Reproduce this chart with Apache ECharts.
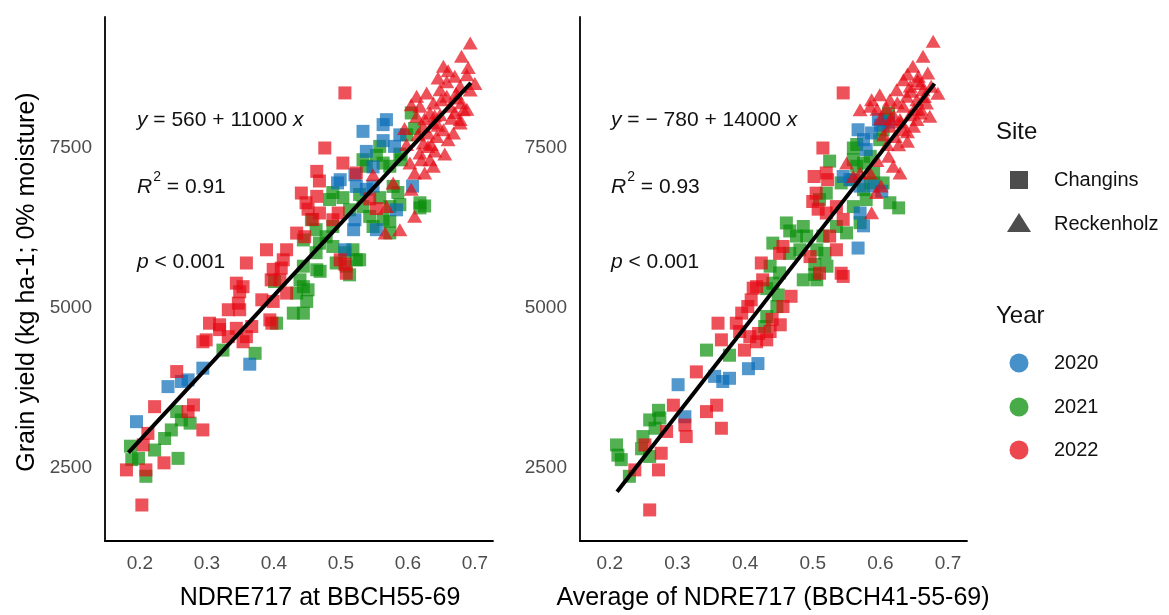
<!DOCTYPE html>
<html><head><meta charset="utf-8">
<script src="https://cdn.jsdelivr.net/npm/echarts@6/dist/echarts.min.js"></script>
<style>html,body{margin:0;padding:0;background:#fff}#c{width:1169px;height:615px}</style>
</head><body><div id="c"></div>
<script>
// ---------- DATA ----------
const xTicks = [0.2, 0.3, 0.4, 0.5, 0.6, 0.7];
const yTicks = [2500, 5000, 7500];
const siteNames = ['Changins', 'Reckenholz'];
const yearNames = ['2020', '2021', '2022'];
const xTitleLeft = 'NDRE717 at BBCH55-69';
const xTitleRight = 'Average of NDRE717 (BBCH41-55-69)';
const yTitle = 'Grain yield (kg ha-1; 0% moisture)';
const eqLeft = ['560', '11000', '0.91'];
const eqRight = ['\u2212780', '14000', '0.93'];

// Left panel: NDRE717 at BBCH55-69
const leftCh2020 = [[0.195,3223],[0.242,3770],[0.272,3875],[0.262,3850],[0.294,4058],[0.364,4120],
 [0.533,7755],[0.568,7937],[0.563,7860],[0.538,7442],[0.563,7610],[0.580,7520],
 [0.499,7000],[0.495,6950],[0.521,7078],[0.523,6895],[0.538,6850],[0.548,6900],
 [0.521,6375],[0.519,6220],[0.553,6220],[0.506,5906],[0.583,6530],[0.607,6900],[0.548,7200],[0.588,7700]];
const leftCh2021 = [[0.605,8042],[0.610,7800],[0.598,7700],[0.558,7520],[0.553,7380],[0.533,7312],[0.538,7210],[0.563,7260],[0.573,7210],[0.590,7310],[0.588,7400],
 [0.488,6800],[0.503,6720],[0.483,6690],[0.528,6770],[0.558,6720],[0.578,6895],[0.585,6800],[0.618,6640],[0.625,6590],[0.618,6560],[0.573,6580],[0.588,6610],
 [0.543,6427],[0.563,6380],[0.573,6350],[0.548,6270],[0.573,6170],[0.456,6375],[0.463,6220],[0.488,6270],[0.513,6530],[0.533,6580],
 [0.444,6060],[0.468,6010],[0.478,6110],[0.488,5958],[0.506,5860],[0.518,5906],[0.523,5750],[0.508,5650],[0.464,5594],[0.444,5650],[0.439,5437],[0.493,5700],[0.463,5860],[0.528,5750],
 [0.451,5281],[0.449,5100],[0.434,5230],[0.429,4917],[0.444,4917],[0.404,4760],[0.469,5570],[0.513,5515],[0.401,5410],[0.444,5330],[0.324,4340],[0.372,4290],
 [0.255,3380],[0.275,3200],[0.247,3094],[0.237,2960],[0.222,2780],[0.186,2840],[0.188,2630],[0.198,2650],[0.209,2370],[0.257,2650],[0.262,3250]];
const leftCh2022 = [[0.506,8355],[0.476,7495],[0.503,7260],[0.464,7130],[0.468,6980],[0.523,7105],[0.441,6792],[0.448,6640],[0.464,6740],[0.451,6540],[0.468,6480],[0.458,6380],[0.496,6480],
 [0.434,6167],[0.446,6110],[0.488,6375],[0.499,5750],[0.506,5680],[0.389,5906],[0.419,5906],[0.414,5750],[0.359,5700],[0.399,5600],[0.411,5620],[0.543,6700],[0.553,6550],
 [0.409,5437],[0.344,5385],[0.354,5330],[0.396,5437],[0.349,5250],[0.347,5073],[0.332,4970],[0.349,4970],[0.382,5125],[0.399,5100],[0.394,4812],[0.304,4760],
 [0.319,4735],[0.319,4660],[0.344,4680],[0.367,4708],[0.294,4470],[0.299,4500],[0.332,4550],[0.354,4470],[0.359,4550],[0.255,4005],[0.222,3457],[0.280,3484],
 [0.272,3380],[0.294,3094],[0.212,3040],[0.205,2860],[0.180,2470],[0.209,2470],[0.203,1922],[0.419,5230],[0.397,4760],[0.508,5540],[0.236,2580]];
const leftRe2022 = [[0.693,9135],[0.680,8927],[0.653,8770],[0.670,8614],[0.688,8640],[0.645,8589],[0.658,8530],[0.678,8458],[0.693,8400],[0.648,8406],[0.628,8355],
 [0.613,8302],[0.658,8302],[0.673,8275],[0.638,8198],[0.618,8146],[0.605,8172],[0.663,8146],[0.683,8094],[0.633,8042],[0.648,8015],[0.613,7990],[0.665,7960],
 [0.638,7885],[0.623,7832],[0.678,7885],[0.653,7780],[0.668,7730],[0.643,7675],[0.630,7730],[0.660,7625],[0.623,7573],[0.630,7520],[0.618,7417],[0.633,7312],
 [0.638,7210],[0.625,7105],[0.620,7312],[0.678,7940],[0.688,8100],[0.603,7260],[0.610,7105],[0.548,7078],[0.566,6170],[0.588,6220],[0.605,6850],[0.610,6430],
 [0.578,6950],[0.568,6580],[0.598,7550],[0.640,7450],[0.655,7400],[0.595,7800],[0.700,8500],[0.690,8750],
 [0.650,8250],[0.672,8350],[0.640,8000],[0.625,7950],[0.660,8700],[0.680,8200],[0.615,7700],[0.645,7850],[0.635,7550],[0.670,8050]];
const leftFit = [[0.183,2740],[0.694,8510]];

// Right panel: Average of NDRE717
const rightCh2020 = [[0.597,7940],[0.567,7780],[0.587,7730],[0.575,7625],[0.579,7470],[0.545,7050],[0.570,6900],[0.590,6900],[0.602,6820],[0.570,6480],[0.575,6280],
 [0.567,5933],[0.405,4050],[0.419,4130],[0.355,3930],[0.367,3850],[0.377,3900],[0.301,3800],[0.311,3300],[0.555,7000],[0.600,7850],[0.612,7900]];
const rightCh2021 = [[0.612,8042],[0.607,7940],[0.604,7780],[0.599,7625],[0.560,7495],[0.525,7290],[0.560,7312],[0.565,7210],[0.575,7260],[0.585,7365],[0.542,6950],
 [0.560,7000],[0.575,6845],[0.585,6950],[0.604,6950],[0.614,6640],[0.627,6560],[0.579,6690],[0.520,6790],[0.510,6690],[0.560,6580],[0.570,6330],[0.535,6270],
 [0.515,6120],[0.550,6170],[0.506,5906],[0.518,5850],[0.503,5680],[0.521,5650],[0.461,6325],[0.466,6200],[0.486,6270],[0.476,6120],[0.491,6120],[0.441,6010],
 [0.466,5850],[0.481,5906],[0.437,5650],[0.451,5545],[0.441,5385],[0.486,5437],[0.432,5300],[0.432,4865],[0.429,4708],[0.447,5020],[0.449,5200],[0.503,5520],
 [0.506,5437],[0.343,4340],[0.377,4260],[0.272,3400],[0.259,3250],[0.274,3280],[0.267,3120],[0.249,2990],[0.247,2800],[0.210,2860],[0.212,2700],[0.217,2630],
 [0.259,2680],[0.229,2370],[0.565,7550],[0.590,7100]];
const rightCh2022 = [[0.545,8355],[0.515,7495],[0.502,7050],[0.520,7105],[0.505,6790],[0.500,6660],[0.522,7000],[0.535,6580],[0.520,6480],[0.508,6540],[0.545,6380],
 [0.525,6120],[0.535,5906],[0.496,5800],[0.542,5540],[0.510,5540],[0.456,5958],[0.451,5850],[0.424,5700],[0.417,5330],[0.426,5437],[0.412,5307],[0.409,5125],
 [0.404,5020],[0.395,4917],[0.456,5020],[0.468,5180],[0.545,5490],[0.452,4735],[0.437,4630],[0.432,4500],[0.387,4760],[0.392,4630],[0.407,4550],[0.417,4470],
 [0.360,4760],[0.365,4500],[0.399,4340],[0.328,4000],[0.294,3480],[0.343,3380],[0.358,3480],[0.365,3120],[0.311,3170],[0.313,2990],[0.284,3070],[0.252,2860],
 [0.276,2730],[0.237,2470],[0.272,2470],[0.259,1845],[0.420,4600],[0.440,4820]];
const rightRe2022 = [[0.678,9160],[0.663,8927],[0.648,8770],[0.634,8562],[0.656,8614],[0.670,8667],[0.644,8458],[0.624,8406],[0.663,8406],[0.675,8458],[0.639,8302],
 [0.654,8250],[0.614,8250],[0.599,8328],[0.587,8250],[0.585,8146],[0.609,8120],[0.634,8146],[0.668,8198],[0.659,8042],[0.644,8015],[0.629,7940],[0.634,7780],
 [0.614,7833],[0.622,7675],[0.649,7833],[0.654,7940],[0.673,7990],[0.627,7545],[0.612,7365],[0.619,7210],[0.629,7105],[0.585,7105],[0.550,7260],[0.570,7105],
 [0.587,6484],[0.594,6800],[0.601,6900],[0.560,7050],[0.570,8094],[0.640,8650],[0.660,8500],[0.620,8000],[0.600,7950],[0.650,8100],[0.610,7550],[0.595,7300],
 [0.685,8350],[0.640,7600],
 [0.625,8200],[0.645,8380],[0.665,8300],[0.630,7900],[0.655,8550],[0.615,7950],[0.640,7750],[0.605,7700],[0.660,8100],[0.595,8100]];
const rightFit = [[0.2108,2130],[0.680,8500]];

// ---------- STYLE ----------
const FONT = '"Liberation Sans", Arial, sans-serif';
const C_BLUE = '#0A6CB8', C_GREEN = '#0A8F0A', C_RED = '#E50914';
const OP = 0.7;
const SQ = 13, TRI = [15, 13];

function xAxis(idx, min, max) {
  return {
    type: 'value', gridIndex: idx, min: min, max: max,
    axisLine: { show: true, onZero: false, lineStyle: { color: '#000', width: 1.8 } },
    axisTick: { show: false },
    splitLine: { show: false },
    axisLabel: { customValues: xTicks, color: '#4d4d4d', fontSize: 19, fontFamily: FONT, margin: 13,
      formatter: v => Number(v).toFixed(1) }
  };
}
function yAxis(idx) {
  return {
    type: 'value', gridIndex: idx, min: 1360, max: 9540,
    axisLine: { show: true, onZero: false, lineStyle: { color: '#000', width: 1.8 } },
    axisTick: { show: false },
    splitLine: { show: false },
    axisLabel: { customValues: yTicks, color: '#4d4d4d', fontSize: 19, fontFamily: FONT, margin: 13,
      formatter: v => String(Math.round(Number(v))) }
  };
}
function sc(idx, data, color, tri) {
  return {
    type: 'scatter', xAxisIndex: idx, yAxisIndex: idx, data: data,
    symbol: tri ? 'triangle' : 'rect', symbolSize: tri ? TRI : SQ,
    itemStyle: { color: color, opacity: OP }, silent: true, z: 2,
    emphasis: { disabled: true }
  };
}
function fit(idx, data) {
  return {
    type: 'line', xAxisIndex: idx, yAxisIndex: idx, data: data, symbol: 'none', z: 5,
    lineStyle: { color: '#000', width: 4, cap: 'butt' }, silent: true, animation: false
  };
}
const richBase = {
  n: { fontSize: 21, fontFamily: FONT, fill: '#111', lineHeight: 28, verticalAlign: 'bottom' },
  i: { fontSize: 21, fontFamily: FONT, fontStyle: 'italic', fill: '#111', lineHeight: 28, verticalAlign: 'bottom' },
  s: { fontSize: 14, fontFamily: FONT, fill: '#111', lineHeight: 28, verticalAlign: 'top', padding: [0, 0, 0, 1] }
};
function annot(x, eq) {
  const sign = eq[0].startsWith('\u2212') ? '{n| = \u2212 ' + eq[0].slice(1) + ' + ' + eq[1] + ' }' : '{n| = ' + eq[0] + ' + ' + eq[1] + ' }';
  return [
    { type: 'text', x: x, y: 117, style: { text: '{i|y}' + sign + '{i|x}', rich: richBase, verticalAlign: 'middle' } },
    { type: 'text', x: x, y: 184, style: { text: '{i|R}{s|2}{n| = ' + eq[2] + '}', rich: richBase, verticalAlign: 'middle' } },
    { type: 'text', x: x, y: 259, style: { text: '{i|p}{n| < 0.001}', rich: richBase, verticalAlign: 'middle' } }
  ];
}
const legendFill = '#4d4d4d';
const lt = (x, y, t, fs) => ({ type: 'text', x: x, y: y, style: { text: t, fontSize: fs, fontFamily: FONT, fill: '#111', verticalAlign: 'middle' } });

const graphics = [].concat(
  annot(137, eqLeft), annot(611, eqRight),
  [
    { type: 'text', x: 320, y: 598, style: { text: xTitleLeft, fontSize: 25, fontFamily: FONT, fill: '#000', align: 'center', verticalAlign: 'middle' } },
    { type: 'text', x: 773, y: 598, style: { text: xTitleRight, fontSize: 25, fontFamily: FONT, fill: '#000', align: 'center', verticalAlign: 'middle' } },
    { type: 'text', x: 27, y: 282, rotation: Math.PI / 2, style: { text: yTitle, fontSize: 25, fontFamily: FONT, fill: '#000', align: 'center', verticalAlign: 'middle' } },
    lt(996, 132, 'Site', 24),
    { type: 'rect', shape: { x: 1010, y: 171, width: 18, height: 18 }, style: { fill: legendFill } },
    lt(1054, 180, siteNames[0], 20),
    { type: 'polygon', shape: { points: [[1007, 232], [1019, 213], [1031, 232]] }, style: { fill: legendFill } },
    lt(1054, 224, siteNames[1], 20),
    lt(996, 316, 'Year', 24),
    { type: 'circle', shape: { cx: 1019, cy: 363, r: 9.5 }, style: { fill: C_BLUE, opacity: 0.75 } },
    lt(1054, 363, yearNames[0], 20),
    { type: 'circle', shape: { cx: 1019, cy: 407, r: 9.5 }, style: { fill: C_GREEN, opacity: 0.75 } },
    lt(1054, 407, yearNames[1], 20),
    { type: 'circle', shape: { cx: 1019, cy: 450, r: 9.5 }, style: { fill: C_RED, opacity: 0.75 } },
    lt(1054, 450, yearNames[2], 20)
  ]
);

const chart = echarts.init(document.getElementById('c'), null, { renderer: 'canvas' });
chart.setOption({
  animation: false,
  backgroundColor: '#fff',
  grid: [
    { left: 105, top: 17, width: 388, height: 524 },
    { left: 580, top: 17, width: 387, height: 524 }
  ],
  xAxis: [xAxis(0, 0.148, 0.727), xAxis(1, 0.156, 0.728)],
  yAxis: [yAxis(0), yAxis(1)],
  series: [
    sc(0, leftCh2021, C_GREEN, false), sc(0, leftCh2020, C_BLUE, false), sc(0, leftCh2022, C_RED, false), sc(0, leftRe2022, C_RED, true),
    sc(1, rightCh2021, C_GREEN, false), sc(1, rightCh2020, C_BLUE, false), sc(1, rightCh2022, C_RED, false), sc(1, rightRe2022, C_RED, true),
    fit(0, leftFit), fit(1, rightFit)
  ],
  graphic: graphics
});
</script></body></html>
